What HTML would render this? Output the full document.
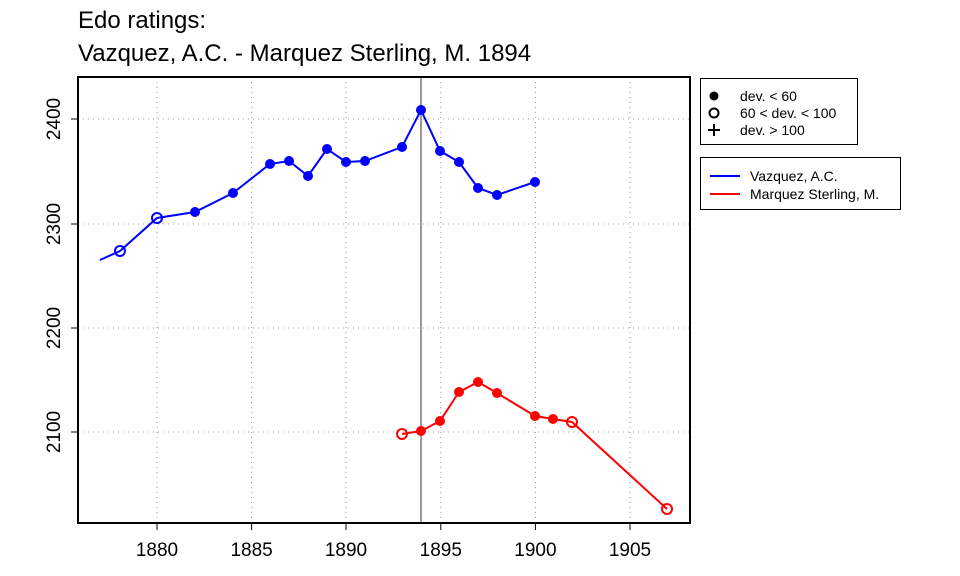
<!DOCTYPE html>
<html><head><meta charset="utf-8"><style>body{margin:0;background:#fff}svg{display:block}</style></head><body>
<svg width="960" height="576" xmlns="http://www.w3.org/2000/svg" font-family="Liberation Sans, Arial, sans-serif">
<text x="78" y="28" font-size="24">Edo ratings:</text>
<text x="78" y="61" font-size="24">Vazquez, A.C. - Marquez Sterling, M. 1894</text>
<g stroke="#999" stroke-dasharray="1,4" stroke-width="1">
<line x1="157" y1="77" x2="157" y2="523"/><line x1="251.6" y1="77" x2="251.6" y2="523"/><line x1="346" y1="77" x2="346" y2="523"/><line x1="440.8" y1="77" x2="440.8" y2="523"/><line x1="535.4" y1="77" x2="535.4" y2="523"/><line x1="630" y1="77" x2="630" y2="523"/>
<line x1="78" y1="119" x2="690" y2="119"/><line x1="78" y1="224" x2="690" y2="224"/><line x1="78" y1="328" x2="690" y2="328"/><line x1="78" y1="432" x2="690" y2="432"/>
</g>
<line x1="421" y1="77" x2="421" y2="523" stroke="#000" stroke-width="0.8"/>
<rect x="78" y="77" width="612" height="446" fill="none" stroke="#000" stroke-width="2"/>
<g stroke="#000"><line x1="157" y1="523" x2="157" y2="530"/><line x1="251.6" y1="523" x2="251.6" y2="530"/><line x1="346" y1="523" x2="346" y2="530"/><line x1="440.8" y1="523" x2="440.8" y2="530"/><line x1="535.4" y1="523" x2="535.4" y2="530"/><line x1="630" y1="523" x2="630" y2="530"/>
<line x1="71" y1="119" x2="78" y2="119"/><line x1="71" y1="224" x2="78" y2="224"/><line x1="71" y1="328" x2="78" y2="328"/><line x1="71" y1="432" x2="78" y2="432"/></g>
<g font-size="19" text-anchor="middle"><text x="157" y="556">1880</text><text x="251.6" y="556">1885</text><text x="346" y="556">1890</text><text x="440.8" y="556">1895</text><text x="535.4" y="556">1900</text><text x="630" y="556">1905</text>
<text transform="translate(60,119) rotate(-90)">2400</text><text transform="translate(60,224) rotate(-90)">2300</text><text transform="translate(60,328) rotate(-90)">2200</text><text transform="translate(60,432) rotate(-90)">2100</text></g>
<polyline fill="none" stroke="#00f" stroke-width="2" points="100,260 120,251 157,218 195,212 233,193 270,164 289,161 308,176 327,149 346,162 365,161 402,147 421,110 440,151 459,162 478,188 497,195 535,182"/>
<g fill="none" stroke="#00f" stroke-width="2"><circle cx="120" cy="251" r="5"/><circle cx="157" cy="218" r="5"/></g>
<g fill="#00f"><circle cx="195" cy="212" r="5"/><circle cx="233" cy="193" r="5"/><circle cx="270" cy="164" r="5"/><circle cx="289" cy="161" r="5"/><circle cx="308" cy="176" r="5"/><circle cx="327" cy="149" r="5"/><circle cx="346" cy="162" r="5"/><circle cx="365" cy="161" r="5"/><circle cx="402" cy="147" r="5"/><circle cx="421" cy="110" r="5"/><circle cx="440" cy="151" r="5"/><circle cx="459" cy="162" r="5"/><circle cx="478" cy="188" r="5"/><circle cx="497" cy="195" r="5"/><circle cx="535" cy="182" r="5"/></g>
<polyline fill="none" stroke="#f00" stroke-width="2" points="402,434 421,431 440,421 459,392 478,382 497,393 535,416 553,419 572,422 667,509"/>
<g fill="none" stroke="#f00" stroke-width="2"><circle cx="402" cy="434" r="5"/><circle cx="572" cy="422" r="5"/><circle cx="667" cy="509" r="5"/></g>
<g fill="#f00"><circle cx="421" cy="431" r="5"/><circle cx="440" cy="421" r="5"/><circle cx="459" cy="392" r="5"/><circle cx="478" cy="382" r="5"/><circle cx="497" cy="393" r="5"/><circle cx="535" cy="416" r="5"/><circle cx="553" cy="419" r="5"/></g>
<rect x="700.5" y="78.5" width="157" height="66" fill="none" stroke="#000"/>
<circle cx="714" cy="96" r="4.5" fill="#000"/><circle cx="714" cy="113" r="4.5" fill="none" stroke="#000" stroke-width="2"/>
<path d="M714 124v12M708 130h12" stroke="#000" stroke-width="2"/>
<g font-size="14"><text x="740" y="101">dev. &lt; 60</text><text x="740" y="118">60 &lt; dev. &lt; 100</text><text x="740" y="135">dev. &gt; 100</text>
<text x="750" y="181">Vazquez, A.C.</text><text x="750" y="199">Marquez Sterling, M.</text></g>
<rect x="700.5" y="157.5" width="200" height="52" fill="none" stroke="#000"/>
<line x1="710" y1="176" x2="740" y2="176" stroke="#00f" stroke-width="2"/>
<line x1="710" y1="194" x2="740" y2="194" stroke="#f00" stroke-width="2"/>
</svg>
</body></html>
